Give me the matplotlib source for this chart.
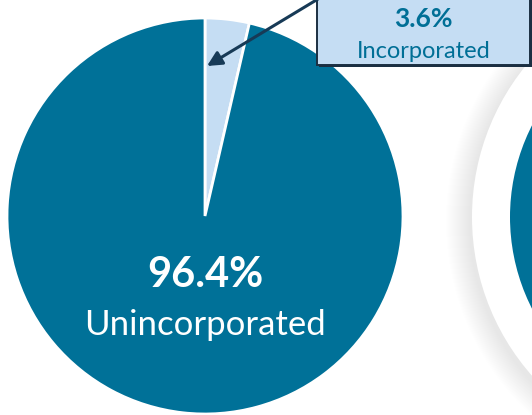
import matplotlib
matplotlib.use("Agg")
from matplotlib import pyplot as plt
from matplotlib.patches import Circle, Rectangle

# Share of businesses
labels = ['Incorporated', 'Unincorporated']
shares = [3.6, 96.4]
colors = ['#c5ddf3', '#007198']

W, H = 532, 415

plt.rcParams['font.family'] = ['Lato', 'DejaVu Sans']

fig = plt.figure(figsize=(W / 100, H / 100), dpi=100)
ax = fig.add_axes([0, 0, 1, 1])


def py(y):
    # pixel row (from top) -> data y
    return H - y


# neighbouring chart peeking in on the right (white disc with a soft shadow)
cx2, cy2 = 712, py(217)
for i in range(24):
    ax.add_patch(Circle((cx2 - 2, cy2 - 4), 240 + 24 - i, facecolor='#000000',
                        alpha=0.0022, edgecolor='none', zorder=0))
ax.add_patch(Circle((cx2, cy2), 240, facecolor='white', edgecolor='none', zorder=1))
ax.add_patch(Circle((cx2, cy2), 202, facecolor=colors[1], edgecolor='none', zorder=2))

wedges, _ = ax.pie(shares, colors=colors, startangle=90, counterclock=False,
                   center=(205, py(216)), radius=198,
                   wedgeprops=dict(edgecolor='white', linewidth=2.0))

# main label inside the big slice
ax.text(205, py(287), '{:.1f}%'.format(shares[1]), color='white', fontsize=30,
        fontweight='bold', ha='center', va='baseline')
ax.text(205, py(335), labels[1], color='white', fontsize=25,
        ha='center', va='baseline')

# callout box for the small slice
bx0, bx1, by0, by1 = 317, 530, -10, 65
ax.add_patch(Rectangle((bx0 + 2, py(by1 + 2)), bx1 - bx0, by1 - by0,
                       facecolor='#1b2f42', edgecolor='none', zorder=5))
ax.add_patch(Rectangle((bx0, py(by1)), bx1 - bx0, by1 - by0,
                       facecolor=colors[0], edgecolor='#1b2f42', linewidth=1.4,
                       zorder=6))
ax.text((bx0 + bx1) / 2, py(27), '{:.1f}%'.format(shares[0]), color='#006f96',
        fontsize=19, fontweight='bold', ha='center', va='baseline', zorder=7)
ax.text((bx0 + bx1) / 2, py(58), labels[0], color='#006f96', fontsize=17,
        ha='center', va='baseline', zorder=7)

ax.annotate('', xy=(207, py(66)), xytext=(bx0 + 1, py(-1)),
            arrowprops=dict(arrowstyle='-|>', color='#173a56', lw=2.2,
                            mutation_scale=22, shrinkA=0, shrinkB=0),
            zorder=8)

ax.set_xlim(0, W)
ax.set_ylim(0, H)
ax.set_aspect('auto')
ax.axis('off')

fig.savefig('out.png', dpi=100, facecolor='white')
